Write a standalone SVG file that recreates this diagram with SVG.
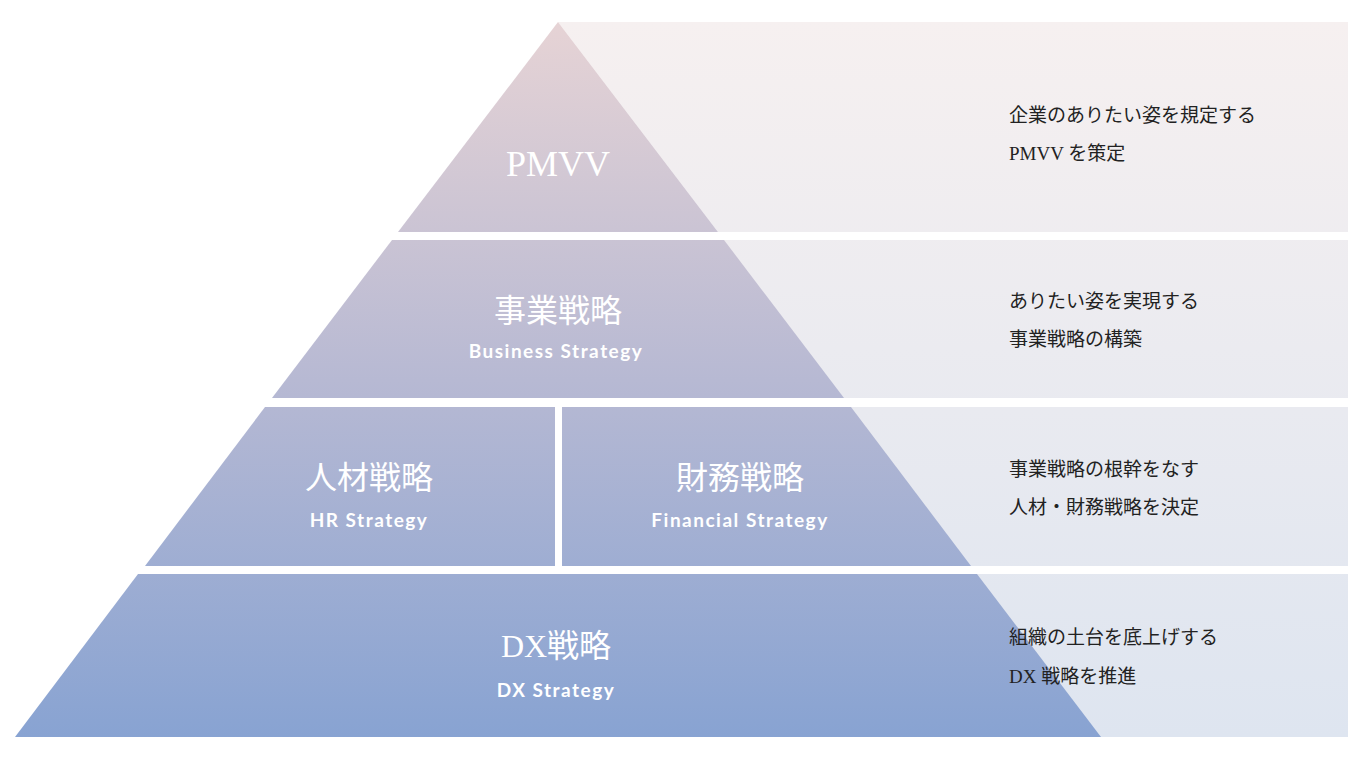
<svg xmlns="http://www.w3.org/2000/svg" width="1362" height="758" viewBox="0 0 1362 758">
<defs>
<linearGradient id="pg" x1="0" y1="22" x2="0" y2="737" gradientUnits="userSpaceOnUse"><stop offset="0" stop-color="#e6d3d5"/><stop offset="0.5" stop-color="#b7b9d3"/><stop offset="1" stop-color="#88a3d2"/></linearGradient>
<linearGradient id="lg" x1="0" y1="22" x2="0" y2="737" gradientUnits="userSpaceOnUse"><stop offset="0" stop-color="#f6f0f0"/><stop offset="1" stop-color="#dee5f0"/></linearGradient>
<style>
.jp{font-family:"Liberation Serif","Noto Sans CJK JP",serif;fill:#fff;text-anchor:middle;font-size:32px}
.en{font-family:"Lato","Liberation Sans",sans-serif;font-weight:bold;fill:#fff;text-anchor:middle;font-size:19px;letter-spacing:1.5px}
.d{font-family:"Liberation Serif","Noto Sans CJK JP",serif;fill:#222;font-size:19px}
</style>
</defs>
<rect width="1362" height="758" fill="#fff"/>
<g id="panels" fill="url(#lg)">
<polygon points="558,22 1348,22 1348,232 718,232"/>
<rect x="724" y="240" width="624" height="158"/>
<rect x="851" y="407" width="497" height="159"/>
<rect x="977" y="574" width="371" height="163"/>
</g>
<g id="pmvv"><polygon points="558,22 718,232 398,232" fill="url(#pg)"/><text class="jp" x="558" y="176" font-size="36" style="font-size:36px">PMVV</text></g>
<g id="business"><polygon points="392,240 724,240 844,398 272,398" fill="url(#pg)"/><text class="jp" x="558" y="322">事業戦略</text><text class="en" x="556" y="358">Business Strategy</text></g>
<g id="hr"><polygon points="265,407 555,407 555,566 145,566" fill="url(#pg)"/><text class="jp" x="369" y="489">人材戦略</text><text class="en" x="369" y="527">HR Strategy</text></g>
<g id="finance"><polygon points="562,407 851,407 971,566 562,566" fill="url(#pg)"/><text class="jp" x="740" y="489">財務戦略</text><text class="en" x="740" y="527">Financial Strategy</text></g>
<g id="dx"><polygon points="138,574 977,574 1101,737 15,737" fill="url(#pg)"/><text class="jp" x="556" y="657">DX戦略</text><text class="en" x="556" y="697">DX Strategy</text></g>
<g id="desc">
<text class="d" x="1009" y="122">企業のありたい姿を規定する</text><text class="d" x="1009" y="160">PMVV を策定</text>
<text class="d" x="1009" y="308">ありたい姿を実現する</text><text class="d" x="1009" y="346">事業戦略の構築</text>
<text class="d" x="1009" y="476">事業戦略の根幹をなす</text><text class="d" x="1009" y="514">人材・財務戦略を決定</text>
<text class="d" x="1009" y="644">組織の土台を底上げする</text><text class="d" x="1009" y="683">DX 戦略を推進</text>
</g>
<g id="connectors"/>
</svg>
